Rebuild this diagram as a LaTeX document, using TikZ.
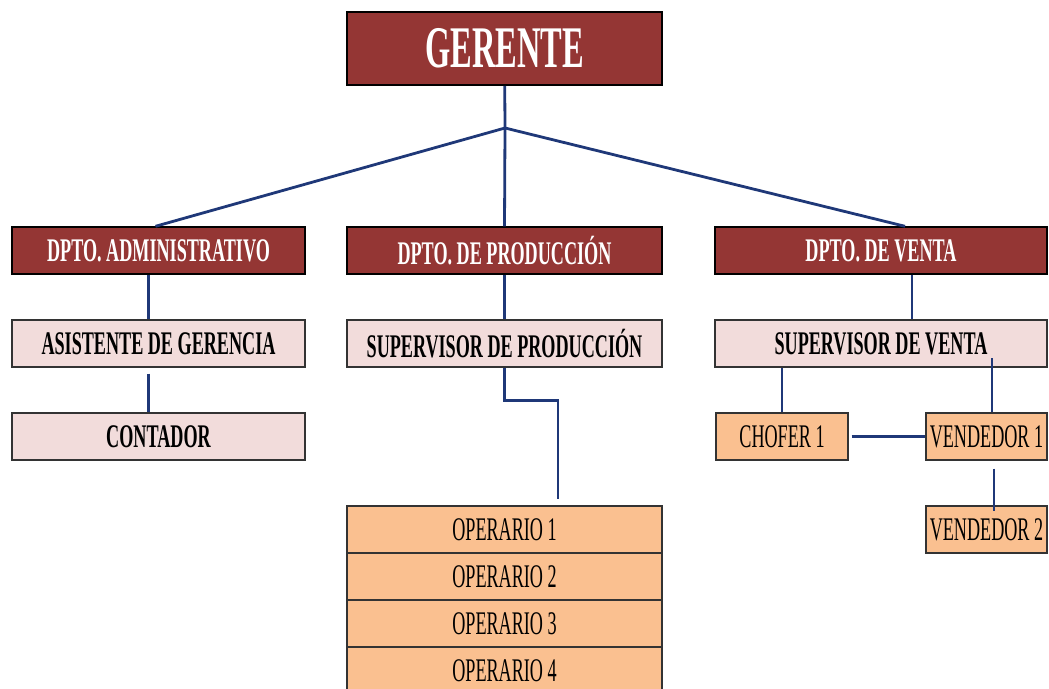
\documentclass[tikz,border=0pt]{standalone}
\usepackage{fontspec}
\setmainfont{Liberation Serif}
\newfontfamily\narrowserif{Liberation Serif}[FakeStretch=0.55]
\usepackage{tikz}
\usetikzlibrary{positioning}
\definecolor{jefe}{RGB}{148,54,52}
\definecolor{asist}{RGB}{242,220,219}
\definecolor{oper}{RGB}{250,192,144}
\definecolor{linea}{RGB}{31,56,120}
\tikzstyle{boss} = [rectangle, minimum width=315pt, minimum height=73pt, draw=black, line width=1.6pt, fill=jefe, text=white, font=\narrowserif\bfseries\fontsize{59}{62}\selectfont]
\tikzstyle{dept} = [rectangle, minimum height=47pt, draw=black, line width=1.4pt, fill=jefe, text=white, font=\narrowserif\bfseries\fontsize{33}{36}\selectfont]
\tikzstyle{staff} = [rectangle, minimum height=47pt, draw=black!80, line width=1.4pt, fill=asist, text=black, font=\narrowserif\bfseries\fontsize{33}{36}\selectfont]
\tikzstyle{worker} = [rectangle, minimum height=47pt, draw=black!80, line width=1.4pt, fill=oper, text=black, font=\narrowserif\fontsize{33}{36}\selectfont]
\tikzstyle{link} = [draw=linea, line width=2.8pt]

\begin{document}
\begin{tikzpicture}[x=1pt, y=-1pt, node distance=93pt]
  \useasboundingbox (0,0) rectangle (1049,688);
  \node (gerente) [boss] at (504.5,48.5) {GERENTE};
  \node (dpto prod) [dept, minimum width=315pt, below of=gerente, yshift=-109pt] {DPTO. DE PRODUCCIÓN};
  \node (dpto admin) [dept, minimum width=293pt, left of=dpto prod, xshift=-253pt] {DPTO. ADMINISTRATIVO};
  \node (dpto venta) [dept, minimum width=332pt, right of=dpto prod, xshift=283.5pt] {DPTO. DE VENTA};
  \node (asistente) [staff, minimum width=293pt, below of=dpto admin] {ASISTENTE DE GERENCIA};
  \node (contador) [staff, minimum width=293pt, below of=asistente] {CONTADOR};
  \node (sup prod) [staff, minimum width=315pt, below of=dpto prod] {SUPERVISOR DE PRODUCCIÓN};
  \node (sup venta) [staff, minimum width=332pt, below of=dpto venta] {SUPERVISOR DE VENTA};
  \node (op1) [worker, minimum width=315pt, below of=sup prod, yshift=-93pt] {OPERARIO 1};
  \node (op2) [worker, minimum width=315pt, below of=op1, yshift=46pt] {OPERARIO 2};
  \node (op3) [worker, minimum width=315pt, below of=op2, yshift=46pt] {OPERARIO 3};
  \node (op4) [worker, minimum width=315pt, below of=op3, yshift=46pt] {OPERARIO 4};
  \node (chofer) [worker, minimum width=132pt, below of=sup venta, xshift=-99pt] {CHOFER 1};
  \node (vend1) [worker, minimum width=121pt, below of=sup venta, xshift=105.5pt] {VENDEDOR 1};
  \node (vend2) [worker, minimum width=121pt, below of=vend1] {VENDEDOR 2};
  \coordinate (hub) at (505,128);
  \draw[link](gerente) -- (hub);
  \draw[link](hub) -- ([xshift=-3pt]dpto admin.north);
  \draw[link](hub) -- (dpto prod.north);
  \draw[link](hub) -- ([xshift=24pt]dpto venta.north);
  \draw[link]([xshift=-10pt]dpto admin.south) -- ([xshift=-10pt]asistente.north);
  \draw[link]([xshift=-10pt,yshift=-6pt]asistente.south) -- ([xshift=-10pt]contador.north);
  \draw[link](dpto prod) -- (sup prod);
  \draw[link](sup prod.south) -- ++(0,33) -| ([xshift=53.5pt,yshift=6pt]op1.north);
  \draw[link]([xshift=31pt]dpto venta.south) -- ([xshift=31pt]sup venta.north);
  \draw[link](chofer.north) -- (chofer.north |- sup venta.south);
  \draw[link]([xshift=5.5pt]vend1.north) -- ([xshift=5.5pt,yshift=10pt]vend1.north |- sup venta.south);
  \draw[link]([xshift=3pt]chofer.east) -- (vend1.west);
  \draw[link]([xshift=7.5pt,yshift=-8pt]vend1.south) -- ([xshift=7.5pt,yshift=-6pt]vend2.north);
\end{tikzpicture}
\end{document}
